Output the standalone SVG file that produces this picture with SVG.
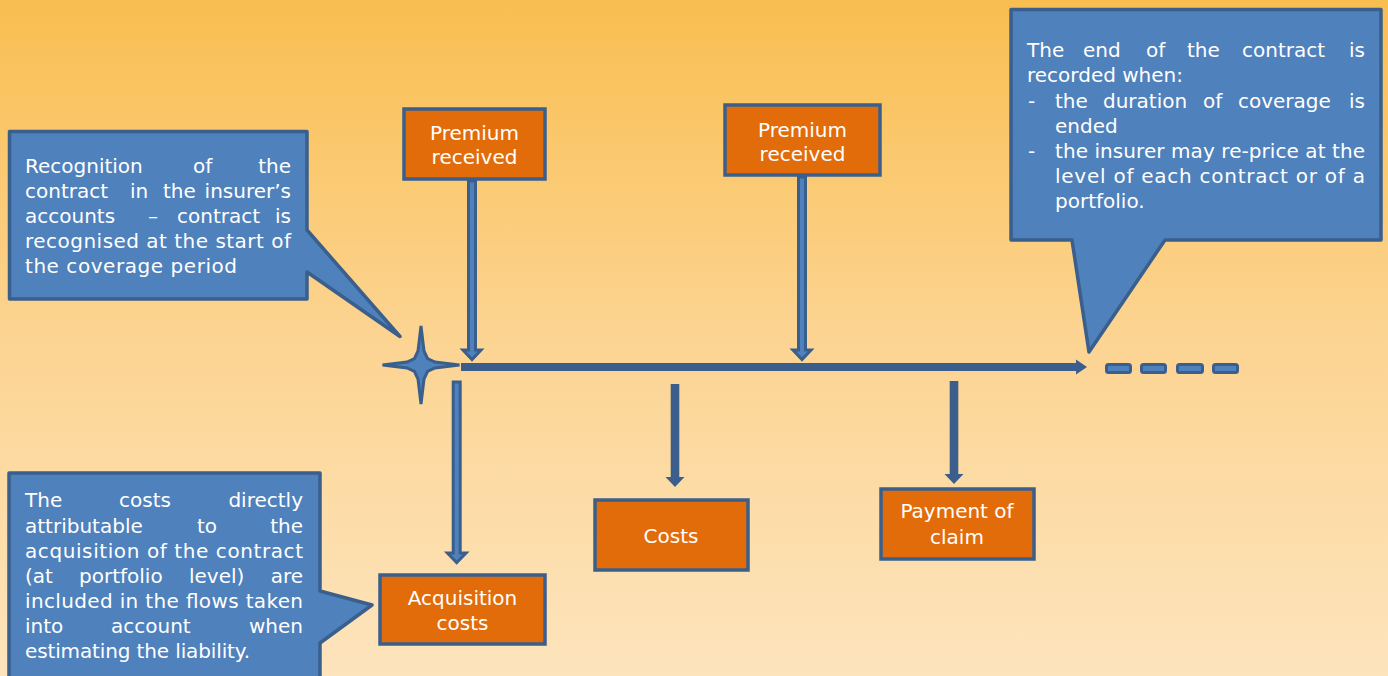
<svg xmlns="http://www.w3.org/2000/svg" width="1388" height="676" viewBox="0 0 1388 676">
<defs>
<linearGradient id="bg" x1="0" y1="0" x2="0" y2="1">
<stop offset="0" stop-color="#F9BE50"/>
<stop offset="0.5" stop-color="#FCD492"/>
<stop offset="1" stop-color="#FDE4BD"/>
</linearGradient>
<style>
.callout{fill:#4F81BD;stroke:#3A5F8C;stroke-width:3.5;stroke-linejoin:round}
.box{fill:#E36C0A;stroke:#3A5F8C;stroke-width:3.5}
.t{font-family:"DejaVu Sans",sans-serif;font-size:20px;fill:#FFFFFF}
.c{text-anchor:middle}
.e{text-anchor:end}
.oarrow{fill:#4F81BD;stroke:#3A5F8C;stroke-width:3;stroke-linejoin:miter}
.sarrow{fill:#3B5E8C}
.dash{fill:#4F81BD;stroke:#3A5F8C;stroke-width:3}
</style>
</defs>
<rect x="0" y="0" width="1388" height="676" fill="url(#bg)"/>

<g id="connectors">
<polygon class="sarrow" points="461,363 1076,363 1076,359.5 1087,367 1076,374.5 1076,371 461,371"/>
<polygon class="oarrow" points="468.5,181 475.5,181 475.5,350 481,350 472,359.5 463,350 468.5,350"/>
<polygon class="oarrow" points="798.5,177 805.5,177 805.5,350 811,350 802,359.5 793,350 798.5,350"/>
<polygon class="oarrow" points="453.2,382 460.2,382 460.2,553 466,553 456.7,562.5 447.4,553 453.2,553"/>
<polygon class="sarrow" points="670.7,384 679.3,384 679.3,477 684.5,477 675,487 665.5,477 670.7,477"/>
<polygon class="sarrow" points="949.7,381 958.3,381 958.3,474 963.5,474 954,484 944.5,474 949.7,474"/>
</g>

<g id="start-star">
<polygon class="dash" points="421,326 424,351 427.5,358.5 435,362 459.5,365 435,368 427.5,371.5 424,379 421,404 418,379 414.5,371.5 407,368 382.5,365 407,362 414.5,358.5 418,351"/>
</g>

<g id="continuation">
<rect class="dash" x="1106.5" y="364.5" width="24" height="8" rx="2"/>
<rect class="dash" x="1141.5" y="364.5" width="24" height="8" rx="2"/>
<rect class="dash" x="1177.5" y="364.5" width="25" height="8" rx="2"/>
<rect class="dash" x="1213.5" y="364.5" width="24" height="8" rx="2"/>
</g>

<g id="callout-recognition">
<path class="callout" d="M9.5 131.5 H307 V230 L400 336.5 L307 272 V299 H9.5 Z"/>
<text class="t" y="173"><tspan x="25">Recognition</tspan><tspan x="193">of</tspan></text>
<text class="t e" x="291" y="173">the</text>
<text class="t" y="198"><tspan x="25">contract</tspan><tspan x="130">in</tspan><tspan x="163">the</tspan></text>
<text class="t e" x="291" y="198">insurer’s</text>
<text class="t" y="223"><tspan x="25">accounts</tspan><tspan x="148">–</tspan><tspan x="177">contract</tspan></text>
<text class="t e" x="291" y="223">is</text>
<text class="t" x="25" y="248" textLength="266" lengthAdjust="spacing">recognised at the start of</text>
<text class="t" x="25" y="273" textLength="212" lengthAdjust="spacing">the coverage period</text>
</g>

<g id="callout-end">
<path class="callout" d="M1011 9.5 H1381 V240 H1165 L1089 352 L1072 240 H1011 Z"/>
<text class="t" y="57"><tspan x="1027">The</tspan><tspan x="1083">end</tspan><tspan x="1146">of</tspan><tspan x="1187">the</tspan><tspan x="1242">contract</tspan></text>
<text class="t e" x="1365" y="57">is</text>
<text class="t" x="1027" y="82">recorded when:</text>
<text class="t" y="107.5"><tspan x="1028">-</tspan><tspan x="1055">the</tspan><tspan x="1103">duration</tspan><tspan x="1203">of</tspan><tspan x="1238">coverage</tspan></text>
<text class="t e" x="1365" y="107.5">is</text>
<text class="t" x="1055" y="132.5">ended</text>
<text class="t" x="1028" y="157.5">-</text>
<text class="t" x="1055" y="157.5" textLength="310" lengthAdjust="spacing">the insurer may re-price at the</text>
<text class="t" x="1055" y="182.5" textLength="310" lengthAdjust="spacing">level of each contract or of a</text>
<text class="t" x="1055" y="208">portfolio.</text>
</g>

<g id="callout-costs">
<path class="callout" d="M9 473 H320 V591 L372 605 L320 643 V690 H9 Z"/>
<text class="t" y="506.7"><tspan x="25">The</tspan><tspan x="119">costs</tspan></text>
<text class="t e" x="303" y="506.7">directly</text>
<text class="t" y="532.7"><tspan x="25">attributable</tspan><tspan x="197">to</tspan></text>
<text class="t e" x="303" y="532.7">the</text>
<text class="t" x="25" y="557.7" textLength="278" lengthAdjust="spacing">acquisition of the contract</text>
<text class="t" y="582.7"><tspan x="25">(at</tspan><tspan x="79">portfolio</tspan><tspan x="189">level)</tspan></text>
<text class="t e" x="303" y="582.7">are</text>
<text class="t" x="25" y="607.7" textLength="278" lengthAdjust="spacing">included in the flows taken</text>
<text class="t" y="633.3"><tspan x="25">into</tspan><tspan x="111">account</tspan></text>
<text class="t e" x="303" y="633.3">when</text>
<text class="t" x="25" y="658.3" textLength="225" lengthAdjust="spacing">estimating the liability.</text>
</g>

<g id="premium-1">
<rect class="box" x="404" y="109" width="141" height="70"/>
<text class="t c" x="474.5" y="140">Premium</text>
<text class="t c" x="474.5" y="164">received</text>
</g>

<g id="premium-2">
<rect class="box" x="725" y="105" width="155" height="70"/>
<text class="t c" x="802.5" y="136.5">Premium</text>
<text class="t c" x="802.5" y="161">received</text>
</g>

<g id="acquisition-costs">
<rect class="box" x="380" y="575" width="165" height="69"/>
<text class="t c" x="462.5" y="605">Acquisition</text>
<text class="t c" x="462.5" y="630">costs</text>
</g>

<g id="costs">
<rect class="box" x="595" y="500" width="153" height="70"/>
<text class="t c" x="671" y="543">Costs</text>
</g>

<g id="payment-of-claim">
<rect class="box" x="881" y="489" width="153" height="70"/>
<text class="t c" x="957" y="518">Payment of</text>
<text class="t c" x="957" y="544">claim</text>
</g>
</svg>
